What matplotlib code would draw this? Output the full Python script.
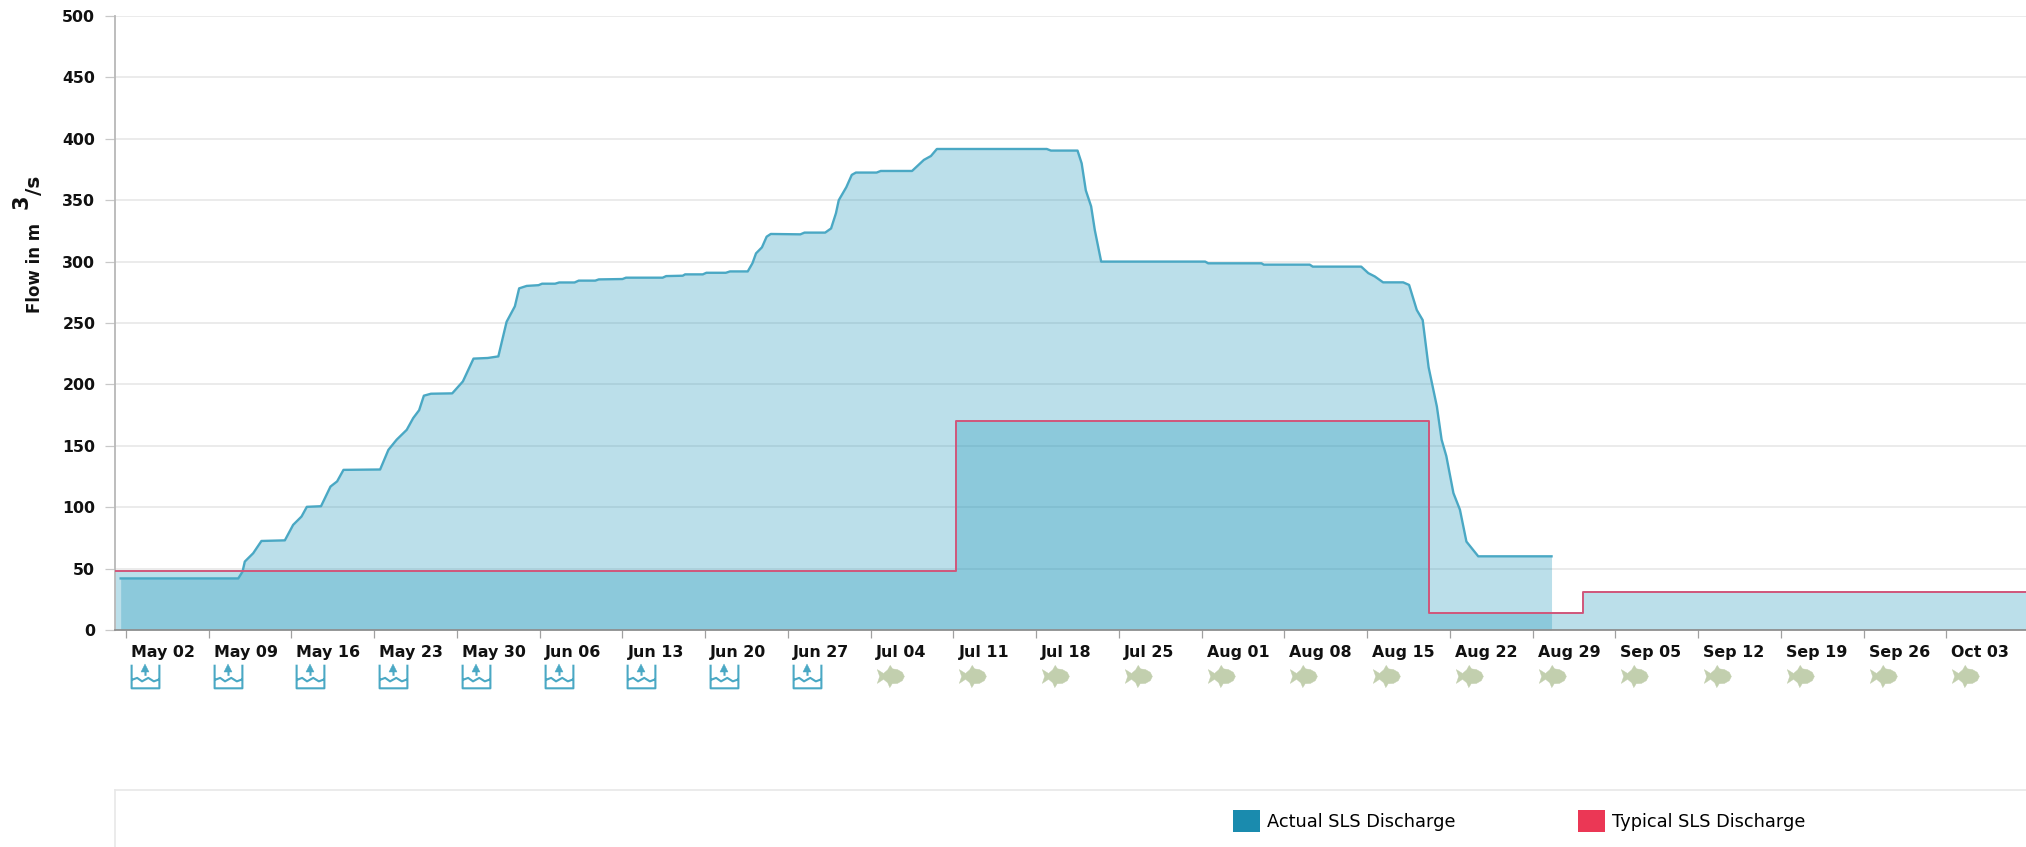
import numpy as np
import matplotlib
matplotlib.use('Agg')
import matplotlib.pyplot as plt
from matplotlib.lines import Line2D
from matplotlib.patches import Patch
from matplotlib.path import Path
from matplotlib.transforms import ScaledTranslation

W, H = 2026, 847

# days counted from May 02
actual_days = [-0.45, 9.5, 9.86, 10.05, 10.76, 11.46, 13.44, 14.14, 14.85, 15.3, 16.5, 17.3, 17.86, 18.4,
               21.5, 22.2, 22.9, 23.75, 24.3, 24.8, 25.2, 25.8, 27.6, 28.5, 29.4, 30.6, 31.5, 32.2, 32.9,
               33.26, 33.9, 34.9, 35.2, 36.3, 36.65, 37.95, 38.3, 39.7, 40, 42, 42.3, 45.4, 45.7, 47.1,
               47.3, 48.8, 49.1, 50.75, 51.1, 52.6, 53, 53.3, 53.8, 54.2, 54.55, 57.05, 57.4, 59.15, 59.65,
               60.06, 60.3, 60.94, 61.4, 61.75, 63.5, 63.85, 66.5, 67.5, 68.1, 68.6, 77.9, 78.25, 80.5,
               80.85, 81.2, 81.65, 81.96, 82.5, 91.3, 91.55, 96.06, 96.26, 100.15, 100.4, 104.5, 105.1,
               105.65, 106.35, 108.05, 108.55, 109.2, 109.7, 110.2, 110.9, 111.3, 111.7, 112.3, 112.85,
               113.4, 113.85, 114.4, 120.6]
actual_flow = [42, 42, 47.5, 55.7, 62.5, 72.5, 73, 85.6, 92.4, 100.3, 100.8, 116.8, 121, 130.4,
               130.7, 146.7, 155, 163, 172.6, 179, 190.8, 192.4, 192.7, 202.4, 221, 221.5, 222.8, 251, 263.6,
               278.2, 280.2, 280.8, 282, 282, 283, 283, 284.5, 284.5, 285.5, 285.8, 286.9, 286.9, 288.2, 288.5,
               289.6, 289.6, 290.9, 290.9, 292, 292, 298.7, 306.7, 311.6, 320.3, 322.5, 322.2, 323.6, 323.6, 327,
               339.3, 350, 360.6, 370.6, 372.5, 372.5, 373.8, 373.8, 382.8, 386, 391.7, 391.7, 390.4, 390.4,
               380, 358, 345, 325.7, 300, 300, 298.6, 298.6, 297.5, 297.5, 295.9, 295.9, 290.6,
               287.9, 283.1, 283.1, 281, 260.6, 252.4, 214, 182, 155, 141.6, 111.5, 98,
               72, 66.6, 60, 60]

typical_days = [-0.93, 70.2, 110.2, 123.3, 160.74]
typical_flow = [48.3, 170.5, 14.1, 31.2, 31.2]

tick_days = np.arange(0, 155, 7)
tick_labels = ['May 02', 'May 09', 'May 16', 'May 23', 'May 30', 'Jun 06', 'Jun 13', 'Jun 20', 'Jun 27',
               'Jul 04', 'Jul 11', 'Jul 18', 'Jul 25', 'Aug 01', 'Aug 08', 'Aug 15', 'Aug 22', 'Aug 29',
               'Sep 05', 'Sep 12', 'Sep 19', 'Sep 26', 'Oct 03']
n_fill_weeks = 9  # first nine weeks are filling, the rest are fish

blue = '#1a8bae'
fill_blue = '#2097ba'
line_blue = '#4aa8c4'
red = '#eb3755'
line_red = '#d0567a'
fish_green = '#c2cfae'

fig = plt.figure(figsize=(W / 100, H / 100), dpi=100)
ax = fig.add_axes([115 / W, (H - 630) / H, (W - 115) / W, 614 / H])

ax.fill_between(actual_days, actual_flow, 0, color=fill_blue, alpha=0.3, lw=0, zorder=2)
ax.fill_between(typical_days, typical_flow, 0, step='post', color=fill_blue, alpha=0.3, lw=0, zorder=2)
ax.plot(actual_days, actual_flow, color=line_blue, lw=1.7, zorder=3)
ax.step(typical_days, typical_flow, where='post', color=line_red, lw=1.4, zorder=4)

ax.set_xlim(-0.93, 160.74)
ax.set_ylim(0, 500)
ax.set_yticks(np.arange(0, 501, 50))
ax.grid(axis='y', color='#e6e6e6', lw=1.1, zorder=1)
ax.set_axisbelow(True)
for s in ['top', 'right']:
    ax.spines[s].set_visible(False)
ax.spines['left'].set_color('#b8b8b8')
ax.spines['left'].set_linewidth(1.3)
ax.spines['bottom'].set_color('#909090')
ax.spines['bottom'].set_linewidth(1.3)
ax.tick_params(axis='y', length=7.2, width=0.9, color='#c8c8c8', pad=7, labelsize=11.3)
ax.tick_params(axis='x', length=5.8, width=0.9, color='#a0a0a0', pad=5, labelsize=11.4)
for lab in ax.get_yticklabels():
    lab.set_fontweight('bold')
    lab.set_color('#111111')

ax.set_xticks(tick_days)
ax.set_xticklabels(tick_labels, ha='left', fontweight='bold', color='#111111')
shift = ScaledTranslation(5 / 100, 0, fig.dpi_scale_trans)
for lab in ax.get_xticklabels():
    lab.set_transform(lab.get_transform() + shift)

# stage icons under the date labels
tank_verts = [(-1, 0.85), (-1, -0.85), (1, -0.85), (1, 0.85),
              (-1, -0.25), (-0.6, -0.1), (-0.25, -0.35), (0.2, -0.1), (0.6, -0.35), (1, -0.2),
              (0, 0.05), (0, 0.6)]
tank_codes = [Path.MOVETO, Path.LINETO, Path.LINETO, Path.LINETO,
              Path.MOVETO, Path.LINETO, Path.LINETO, Path.LINETO, Path.LINETO, Path.LINETO,
              Path.MOVETO, Path.LINETO]
tank = Path(tank_verts, tank_codes)
fish = Path([(1, 0.0), (0.85, 0.3), (0.5, 0.5), (0.15, 0.55), (-0.02, 0.8), (-0.2, 0.48), (-0.5, 0.22),
             (-0.95, 0.5), (-0.78, 0.0), (-0.95, -0.5), (-0.5, -0.2), (-0.2, -0.45), (-0.05, -0.8),
             (0.12, -0.52), (0.5, -0.5), (0.85, -0.3), (1, 0.0)])

tr = ax.get_xaxis_transform()
icon_days = tick_days + 1.6
ax.plot(icon_days[:n_fill_weeks], [-0.075] * n_fill_weeks, transform=tr, ls='none', marker=tank,
        ms=20, mfc='none', mec=line_blue, mew=1.5, clip_on=False)
ax.plot(icon_days[:n_fill_weeks], [-0.0625] * n_fill_weeks, transform=tr, ls='none', marker='^',
        ms=5.5, mfc=line_blue, mec=line_blue, mew=0.3, clip_on=False)
ax.plot(icon_days[n_fill_weeks:], [-0.075] * (len(tick_days) - n_fill_weeks), transform=tr, ls='none',
        marker=fish, ms=20, mfc=fish_green, mec=fish_green, mew=0.3, clip_on=False)

# y label, the 3 is a big raised digit in the original
fig.text(35 / W, (H - 313) / H, 'Flow in m', rotation=90, ha='center', va='bottom', fontsize=12,
         fontweight='bold', color='#111111')
fig.text(22 / W, (H - 209) / H, '3', rotation=90, ha='center', va='bottom', fontsize=15,
         fontweight='bold', color='#111111')
fig.text(35 / W, (H - 195) / H, '/s', rotation=90, ha='center', va='bottom', fontsize=14.5,
         fontweight='bold', color='#111111')

# legend box
fig.add_artist(Line2D([115 / W, 1], [(H - 790) / H] * 2, color='#e8e8e8', lw=1.2))
fig.add_artist(Line2D([115 / W, 115 / W], [0, (H - 790) / H], color='#e8e8e8', lw=1.2))
handles = [Patch(facecolor=blue, edgecolor='none', label='Actual SLS Discharge'),
           Patch(facecolor=red, edgecolor='none', label='Typical SLS Discharge')]
fig.legend(handles=handles, ncol=2, loc='center left', bbox_to_anchor=(1232.5 / W, (H - 821) / H),
           frameon=False, borderpad=0, borderaxespad=0, handlelength=1.53,
           handleheight=1.53, handletextpad=0.4, columnspacing=6.9,
           prop={'family': 'DejaVu Sans', 'size': 12.8})

fig.savefig('out.png', dpi=100)
